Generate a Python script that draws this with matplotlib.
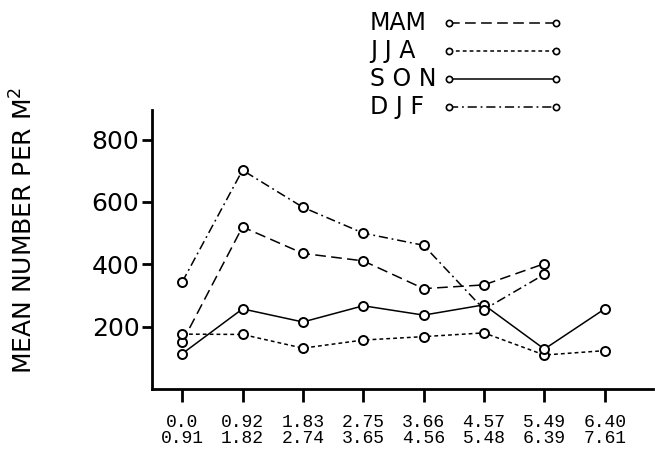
import matplotlib
matplotlib.use("Agg")
import matplotlib.pyplot as plt
import numpy as np
from matplotlib.lines import Line2D

# depth ranges (m) shown as two-line tick labels
depth_top = ["0.0", "0.92", "1.83", "2.75", "3.66", "4.57", "5.49", "6.40"]
depth_bottom = ["0.91", "1.82", "2.74", "3.65", "4.56", "5.48", "6.39", "7.61"]

# mean number per m^2 by season
mam = [150, 520, 435, 411, 322, 334, 402, np.nan]
jja = [176, 175, 131, 157, 168, 180, 109, 123]
son = [113, 257, 215, 267, 237, 270, 128, 257]
djf = [343, 702, 583, 500, 461, 255, 368, np.nan]

season_labels = ["MAM", "J J A", "S O N", "D J F"]

plt.rcParams["font.family"] = "DejaVu Sans"
plt.rcParams["mathtext.default"] = "regular"

W, H = 655, 451
fig = plt.figure(figsize=(W / 100, H / 100), dpi=100)
ax = fig.add_axes([0.232, 0.1375, 0.765, 0.6185])

x = np.arange(len(depth_top))
styles = [
    (mam, (0, (7, 3.5))),
    (jja, (0, (2.5, 2))),
    (son, "-"),
    (djf, (0, (6, 2.5, 1.2, 2.5))),
]
for values, ls in styles:
    ax.plot(x, values, linestyle=ls, color="black", linewidth=1.1,
            marker="o", markersize=6.5, markerfacecolor="white",
            markeredgecolor="black", markeredgewidth=1.4)

ax.set_xlim(-0.5, 7.8)
ax.set_ylim(0, 895)
ax.set_yticks([200, 400, 600, 800])
ax.set_xticks(x)
ax.set_xticklabels([t + "\n" + b for t, b in zip(depth_top, depth_bottom)],
                   family="Liberation Mono", fontsize=13, linespacing=0.9)
ax.tick_params(axis="y", labelsize=18, length=7, width=2, direction="out", pad=2)
ax.tick_params(axis="x", length=9, width=2, direction="out", pad=9)

for side in ["top", "right"]:
    ax.spines[side].set_visible(False)
for side in ["left", "bottom"]:
    ax.spines[side].set_linewidth(2)

fig.text(0.036, 0.49, "MEAN NUMBER PER M$^2$", rotation=90,
         fontsize=18, ha="center", va="center")

# legend drawn by hand: label on the left, line with small circles at both ends
row_y = [23, 51, 79, 107]
for (_, ls), label, yy in zip(styles, season_labels, row_y):
    fy = 1 - yy / H
    fig.text(370 / W, fy, label, fontsize=17, ha="left", va="center")
    fig.add_artist(Line2D([449 / W, 556 / W], [fy, fy], transform=fig.transFigure,
                          color="black", linestyle=ls, linewidth=1.1,
                          marker="o", markersize=4.5, markerfacecolor="white",
                          markeredgecolor="black", markeredgewidth=1.2))

fig.savefig("out.png", dpi=100)
